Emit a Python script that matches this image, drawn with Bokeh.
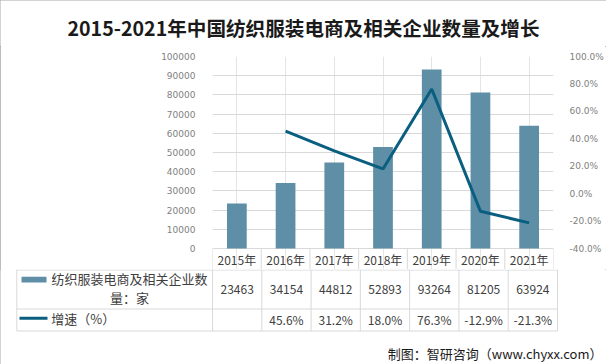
from bokeh.plotting import figure
from bokeh.layouts import column, row
from bokeh.models import (Range1d, FactorRange, LinearAxis, FixedTicker, PrintfTickFormatter,
                          NumeralTickFormatter, ColumnDataSource)
from bokeh.core.properties import value
from bokeh.embed import file_html
from bokeh.resources import INLINE

# ---------------- data ----------------
years = ["2015年", "2016年", "2017年", "2018年", "2019年", "2020年", "2021年"]
counts = [23463, 34154, 44812, 52893, 93264, 81205, 63924]
growth = [float("nan"), 45.6, 31.2, 18.0, 76.3, -12.9, -21.3]
left_ticks = [0, 10000, 20000, 30000, 40000, 50000, 60000, 70000, 80000, 90000, 100000]
right_ticks = [-40, -20, 0, 20, 40, 60, 80, 100]
title_text = "2015-2021年中国纺织服装电商及相关企业数量及增长"
series1_name = ["纺织服装电商及相关企业数", "量：家"]
series2_name = "增速（%）"
source_text = "制图：智研咨询（www.chyxx.com）"

# ---------------- style / layout ----------------
W = 606
H_T, H_C, H_B = 46, 223, 95
TOP_PAD = 10          # chart border above frame
HDR = 21              # height of the year header row (inside chart frame, below zero line)
BAR_COLOR = "#5e8fa6"
LINE_COLOR = "#0a5e80"
GRID = "#d9d9d9"
TXT = "#404040"
AX = "#7f7f7f"
CJK = value("Noto Sans CJK SC")
FL, FR = 212, 49
n = len(years)
cw = (W - FL - FR) / n


def ux(px):
    return (px - FL) / cw - 0.5


def bare(fig):
    fig.outline_line_color = None
    fig.grid.visible = False
    return fig


# ---------------- title ----------------
pt = bare(figure(width=W, height=H_T, output_backend="svg", toolbar_location=None,
                 x_range=Range1d(0, W), y_range=Range1d(H_T, 0),
                 x_axis_location=None, y_axis_location=None, min_border=0))
pt.text(x=[W / 2], y=[27], text=[title_text], text_font=CJK, text_font_style="bold",
        text_font_size="19.6px", text_align="center", text_baseline="middle", text_color="#1a1a1a")

# ---------------- chart (frame includes the year header row) ----------------
FH = H_C - TOP_PAD
ext = HDR / (FH - HDR)
ymax, pmin, pmax = 100000, -40, 100
p1 = figure(width=W, height=H_C, output_backend="svg", toolbar_location=None,
            x_range=FactorRange(factors=years, range_padding=0),
            y_range=Range1d(-ext * ymax, ymax), x_axis_location=None,
            min_border_left=FL, min_border_right=FR, min_border_top=TOP_PAD, min_border_bottom=0)
p1.outline_line_color = None
p1.extra_y_ranges = {"pct": Range1d(pmin - ext * (pmax - pmin), pmax)}
yax = p1.yaxis[0]
yax.ticker = FixedTicker(ticks=left_ticks)
yax.formatter = NumeralTickFormatter(format="0")
rax = LinearAxis(y_range_name="pct", ticker=FixedTicker(ticks=right_ticks),
                 formatter=PrintfTickFormatter(format="%.1f%%"))
p1.add_layout(rax, "right")
for ax, so in [(yax, 11), (rax, 10)]:
    ax.axis_line_color = None
    ax.major_tick_line_color = None
    ax.minor_tick_line_color = None
    ax.major_label_text_font = "DejaVu Sans"
    ax.major_label_text_font_size = "9px"
    ax.major_label_text_color = AX
    ax.major_label_standoff = so
p1.ygrid.grid_line_color = GRID

src = ColumnDataSource(dict(year=years, count=counts, growth=growth))
p1.vbar(x="year", top="count", width=0.405, source=src, fill_color=BAR_COLOR, line_color=None)
p1.line(x="year", y="growth", source=src, y_range_name="pct", line_color=LINE_COLOR, line_width=3)

# year header row (column boundaries in synthetic categorical coordinates 0..n)
sb = list(range(n + 1))
p1.segment(x0=sb, y0=[0] * (n + 1), x1=sb, y1=[-ext * ymax] * (n + 1),
           line_color=GRID, line_width=1)
p1.text(x=years, y=[-ext * ymax / 2] * n, text=years, text_font=CJK, text_font_size="12px",
        text_align="center", text_baseline="middle", text_color=TXT)

# ---------------- table rows + footer ----------------
p2 = bare(figure(width=W, height=H_B, output_backend="svg", toolbar_location=None,
                 x_range=Range1d(ux(0), ux(W)), y_range=Range1d(H_B, 0),
                 x_axis_location=None, y_axis_location=None, min_border=0))
idx = list(range(n))
bx = [i - 0.5 for i in range(n + 1)]
tl = ux(16.3)
row_y = [0.5, 39.5, 61.5]
p2.segment(x0=[tl] * 3, y0=row_y, x1=[n - 0.5] * 3, y1=row_y, line_color=GRID, line_width=1)
p2.segment(x0=bx + [tl], y0=[0] * (n + 2), x1=bx + [tl], y1=[61.5] * (n + 2),
           line_color=GRID, line_width=1)

p2.text(x=idx, y=[20] * n, text=[str(c) for c in counts], text_font=CJK, text_font_size="12px",
        text_align="center", text_baseline="middle", text_color=TXT)
gx = [i for i, g in enumerate(growth) if g == g]
gt = ["%.1f%%" % g for g in growth if g == g]
p2.text(x=gx, y=[50.3] * len(gx), text=gt, text_font=CJK, text_font_size="12px",
        text_align="center", text_baseline="middle", text_color=TXT)

# legend cells
p2.quad(left=[ux(21)], right=[ux(46)], top=[7.3], bottom=[13], fill_color=BAR_COLOR, line_color=None)
p2.text(x=[ux(129)] * 2, y=[9.3, 27.7], text=series1_name, text_font=CJK, text_font_size="13px",
        text_align="center", text_baseline="middle", text_color=TXT)
p2.segment(x0=[ux(19)], y0=[48.7], x1=[ux(47)], y1=[48.7], line_color=LINE_COLOR, line_width=3)
p2.text(x=[ux(50.7)], y=[48.7], text=[series2_name], text_font=CJK, text_font_size="13px",
        text_align="left", text_baseline="middle", text_color=TXT)

# footer
p2.text(x=[ux(602)], y=[84], text=[source_text], text_font=CJK, text_font_size="13px",
        text_align="right", text_baseline="middle", text_color="#1a1a1a")

layout = column(row(pt), row(p1), row(p2), spacing=0,
                styles={"outline": "1px solid #a6a6a6", "outline-offset": "-1px"})

open("out.html", "w").write(file_html(layout, INLINE))
